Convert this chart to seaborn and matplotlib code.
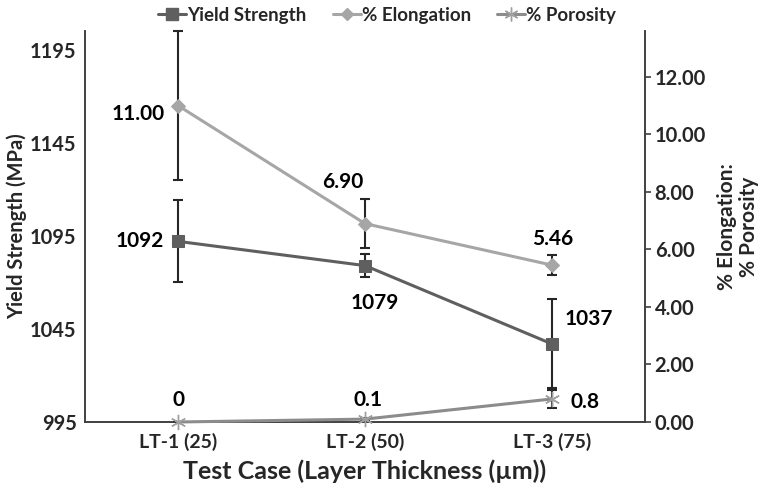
import matplotlib
matplotlib.use("Agg")
import matplotlib.pyplot as plt
import seaborn as sns
import numpy as np
import pandas as pd

cases = ["LT-1 (25)", "LT-2 (50)", "LT-3 (75)"]
yield_strength = [1092, 1079, 1037]
yield_err = [22, 6, 24]
elongation = [11.00, 6.90, 5.46]
elong_err = [2.6, 0.85, 0.35]
porosity = [0.0, 0.1, 0.8]
poro_err = [0.0, 0.05, 0.3]

yield_labels = ["1092", "1079", "1037"]
elong_labels = ["11.00", "6.90", "5.46"]
poro_labels = ["0", "0.1", "0.8"]

sns.set_style("white")
plt.rcParams['font.family'] = ['Lato', 'DejaVu Sans']
plt.rcParams['font.weight'] = 'bold'

c_yield = "#5f5f5f"
c_elong = "#a6a6a6"
c_poro = "#8c8c8c"
c_err = "#262626"

df = pd.DataFrame({"case": cases, "x": np.arange(len(cases)),
                   "ys": yield_strength, "el": elongation, "po": porosity})

fig = plt.figure(figsize=(7.74, 4.96), dpi=100)
ax = fig.add_axes([0.1098, 0.1492, 0.8333 - 0.1098, 0.9375 - 0.1492])
ax2 = ax.twinx()

# yield strength on the left axis
ax.errorbar(df["x"], df["ys"], yerr=yield_err, fmt="none", ecolor=c_err,
            elinewidth=1.5, capsize=3.5, capthick=1.5, zorder=2)
sns.lineplot(data=df, x="x", y="ys", ax=ax, color=c_yield, marker="s",
             markersize=9, markeredgecolor=c_yield, linewidth=2.2, zorder=3)

# elongation and porosity on the right axis
ax2.errorbar(df["x"], df["el"], yerr=elong_err, fmt="none", ecolor=c_err,
             elinewidth=1.5, capsize=3.5, capthick=1.5, zorder=2, clip_on=False)
ax2.errorbar(df["x"], df["po"], yerr=poro_err, fmt="none", ecolor=c_err,
             elinewidth=1.5, capsize=3.5, capthick=1.5, zorder=2)
sns.lineplot(data=df, x="x", y="el", ax=ax2, color=c_elong, marker="D",
             markersize=7, markeredgecolor=c_elong, linewidth=2.2, zorder=3)
sns.lineplot(data=df, x="x", y="po", ax=ax2, color=c_poro, marker=(6, 2, 0),
             markersize=11, markeredgewidth=1.0, markeredgecolor="#a0a0a0",
             linewidth=2.2, zorder=3, clip_on=False)

ax.set_xlim(-0.5, 2.5)
ax.set_ylim(995, 1205)
ax2.set_ylim(0, 13.6)
ax.set_yticks([995, 1045, 1095, 1145, 1195])
ax2.set_yticks(np.arange(0, 13, 2))
ax2.set_yticklabels([f"{v:.2f}" for v in np.arange(0, 13, 2)])
ax.set_xticks(df["x"])
ax.set_xticklabels(cases)

fs = 14.5
ax.tick_params(axis="y", labelsize=fs, length=0, pad=6)
ax.tick_params(axis="x", labelsize=14, length=0, pad=8)
ax2.tick_params(axis="y", labelsize=fs, length=4, width=1.2, color="#404040", pad=3)
for t in ax.get_xticklabels() + ax.get_yticklabels() + ax2.get_yticklabels():
    t.set_fontweight("bold")

ax.set_xlabel("Test Case (Layer Thickness (µm))", fontsize=18, fontweight="bold", labelpad=6)
ax.set_ylabel("Yield Strength (MPa)", fontsize=14.5, fontweight="bold")
ax.yaxis.set_label_coords(-0.104, 0.5)
ax2.set_ylabel("% Elongation:\n% Porosity", fontsize=15, fontweight="bold",
               labelpad=8, linespacing=1.1)

for a in (ax, ax2):
    a.spines["top"].set_visible(False)
    for s in ("left", "right", "bottom"):
        a.spines[s].set_color("#404040")
        a.spines[s].set_linewidth(1.2)
ax.grid(False)
ax2.grid(False)

# data labels
lab = dict(fontsize=15, fontweight="bold", color="black")
ax.annotate(yield_labels[0], (0, yield_strength[0]), xytext=(-10, 0), textcoords="offset points", ha="right", va="center", **lab)
ax.annotate(yield_labels[1], (1, yield_strength[1]), xytext=(7, -27), textcoords="offset points", ha="center", va="center", **lab)
ax.annotate(yield_labels[2], (2, yield_strength[2]), xytext=(27, 18), textcoords="offset points", ha="center", va="center", **lab)
ax2.annotate(elong_labels[0], (0, elongation[0]), xytext=(-10, -6), textcoords="offset points", ha="right", va="center", **lab)
ax2.annotate(elong_labels[1], (1, elongation[1]), xytext=(-16, 30), textcoords="offset points", ha="center", va="center", **lab)
ax2.annotate(elong_labels[2], (2, elongation[2]), xytext=(1, 19), textcoords="offset points", ha="center", va="center", **lab)
ax2.annotate(poro_labels[0], (0, porosity[0]), xytext=(0, 16), textcoords="offset points", ha="center", va="center", **lab)
ax2.annotate(poro_labels[1], (1, porosity[1]), xytext=(2, 14), textcoords="offset points", ha="center", va="center", **lab)
ax2.annotate(poro_labels[2], (2, porosity[2]), xytext=(24, -2), textcoords="offset points", ha="center", va="center", **lab)

handles = [
    plt.Line2D([], [], color=c_yield, marker="s", markersize=8, linewidth=2.2),
    plt.Line2D([], [], color=c_elong, marker="D", markersize=6, linewidth=2.2),
    plt.Line2D([], [], color=c_poro, marker=(6, 2, 0), markersize=10, markeredgewidth=1.0,
               markeredgecolor="#a0a0a0", linewidth=2.2),
]
fig.legend(handles, ["Yield Strength", "% Elongation", "% Porosity"], loc="upper center",
           bbox_to_anchor=(0.5, 1.02), ncol=3, frameon=False, handlelength=1.5,
           handletextpad=0.05, columnspacing=1.4,
           prop={"size": 13.5, "weight": "bold"})

fig.savefig("out.png", dpi=100)
